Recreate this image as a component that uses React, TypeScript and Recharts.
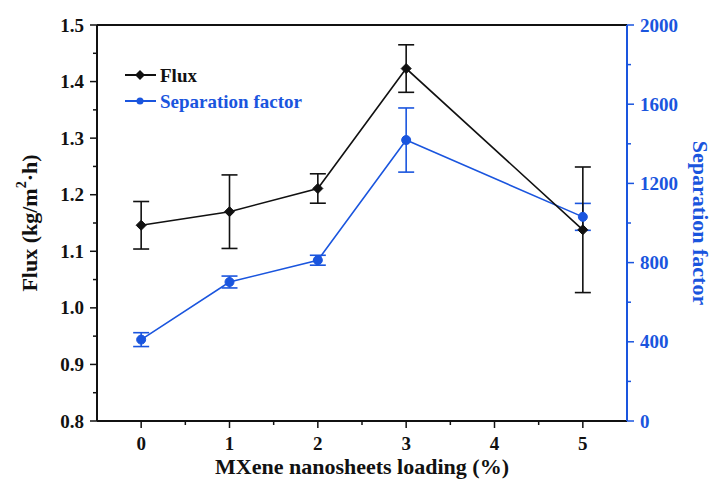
import React from 'react';
import { LineChart, Line, XAxis, YAxis, ErrorBar, Legend, ReferenceLine } from 'recharts';

// ---- data ----
const loading = [0, 1, 2, 3, 5];
const flux = [1.146, 1.17, 1.211, 1.423, 1.138];
const fluxErr = [0.042, 0.065, 0.026, 0.042, 0.111];
const sepFactor = [411, 702, 812, 1419, 1031];
const sepErr = [35, 30, 25, 162, 68];

const xTicks = [0, 0.5, 1, 1.5, 2, 2.5, 3, 3.5, 4, 4.5, 5];
const xMajor = [0, 1, 2, 3, 4, 5];
const fluxTicks = [0.8, 0.85, 0.9, 0.95, 1.0, 1.05, 1.1, 1.15, 1.2, 1.25, 1.3, 1.35, 1.4, 1.45, 1.5];
const fluxMajor = [0.8, 0.9, 1.0, 1.1, 1.2, 1.3, 1.4, 1.5];
const sepTicks = [0, 200, 400, 600, 800, 1000, 1200, 1400, 1600, 1800, 2000];
const sepMajor = [0, 400, 800, 1200, 1600, 2000];

const seriesNames = ['Flux', 'Separation factor'];

const data = loading.map((x, i) => ({
  x,
  flux: flux[i],
  fluxErr: fluxErr[i],
  sep: sepFactor[i],
  sepErr: sepErr[i],
}));

// ---- styles ----
const FONT = "'Liberation Serif', 'Times New Roman', serif";
const BLACK = '#111111';
const BLUE = '#1a55de';
const TICK_FS = 19;
const TITLE_FS = 22;

const txt = (size: number, color: string): React.CSSProperties => ({
  fontFamily: FONT,
  fontWeight: 700,
  fontSize: size,
  fill: color,
});

const isMajor = (v: number, list: number[]) => list.some((m) => Math.abs(m - v) < 1e-6);

const LeftTick = (props: any) => {
  const { x, y, payload } = props;
  const major = isMajor(payload.value, fluxMajor);
  return (
    <g>
      <line x1={x} x2={x - (major ? 7 : 4)} y1={y} y2={y} stroke={BLACK} strokeWidth={1.5} />
      {major && (
        <text x={x - 13} y={y + 6.5} textAnchor="end" style={txt(TICK_FS, BLACK)}>
          {Number(payload.value).toFixed(1)}
        </text>
      )}
    </g>
  );
};

const RightTick = (props: any) => {
  const { x, y, payload } = props;
  const major = isMajor(payload.value, sepMajor);
  return (
    <g>
      <line x1={x} x2={x + (major ? 7 : 4)} y1={y} y2={y} stroke={BLUE} strokeWidth={1.5} />
      {major && (
        <text x={x + 13} y={y + 6.5} textAnchor="start" style={txt(TICK_FS, BLUE)}>
          {String(payload.value)}
        </text>
      )}
    </g>
  );
};

const BottomTick = (props: any) => {
  const { x, y, payload } = props;
  const major = isMajor(payload.value, xMajor);
  return (
    <g>
      <line x1={x} x2={x} y1={y} y2={y + (major ? 7 : 4)} stroke={BLACK} strokeWidth={1.5} />
      {major && (
        <text x={x} y={y + 29} textAnchor="middle" style={txt(TICK_FS, BLACK)}>
          {String(payload.value)}
        </text>
      )}
    </g>
  );
};

const LeftTitle = (props: any) => {
  const vb = props.viewBox || { x: 0, y: 0, width: 0, height: 0 };
  const cx = vb.x + 29;
  const cy = vb.y + vb.height / 2;
  return (
    <text
      x={cx}
      y={cy}
      transform={`rotate(-90 ${cx} ${cy})`}
      textAnchor="middle"
      dominantBaseline="central"
      style={txt(TITLE_FS, BLACK)}
    >
      Flux (kg/m<tspan dy={-8} style={{ fontSize: 14 }}>2</tspan>
      <tspan dy={8}>·h)</tspan>
    </text>
  );
};

const RightTitle = (props: any) => {
  const vb = props.viewBox || { x: 0, y: 0, width: 0, height: 0 };
  const cx = vb.x + 73;
  const cy = vb.y + vb.height / 2;
  return (
    <text
      x={cx}
      y={cy}
      transform={`rotate(90 ${cx} ${cy})`}
      textAnchor="middle"
      dominantBaseline="central"
      style={txt(TITLE_FS, BLUE)}
    >
      Separation factor
    </text>
  );
};

const BottomTitle = (props: any) => {
  const vb = props.viewBox || { x: 0, y: 0, width: 0, height: 0 };
  return (
    <text x={vb.x + vb.width / 2} y={vb.y + 53} textAnchor="middle" style={txt(TITLE_FS, BLACK)}>
      MXene nanosheets loading (%)
    </text>
  );
};

const Diamond = (props: any) => {
  const { cx, cy, index } = props;
  if (cx == null || cy == null) return <g key={`d-${index}`} />;
  const r = 5;
  return (
    <polygon
      key={`d-${index}`}
      points={`${cx},${cy - r} ${cx + r},${cy} ${cx},${cy + r} ${cx - r},${cy}`}
      fill={BLACK}
      stroke={BLACK}
      strokeWidth={1}
    />
  );
};

const renderLegend = (props: any) => {
  const payload: any[] = (props.payload || []).slice();
  payload.sort((a, b) => seriesNames.indexOf(a.value) - seriesNames.indexOf(b.value));
  return (
    <svg width={220} height={56}>
      {payload.map((entry, i) => {
        const isFlux = entry.value === seriesNames[0];
        const color = isFlux ? BLACK : BLUE;
        const cy = 12 + i * 26;
        return (
          <g key={entry.value}>
            <line x1={2} x2={33} y1={cy} y2={cy} stroke={color} strokeWidth={2} />
            {isFlux ? (
              <polygon points={`17,${cy - 5} 22,${cy} 17,${cy + 5} 12,${cy}`} fill={color} />
            ) : (
              <circle cx={17} cy={cy} r={3.5} fill={color} />
            )}
            <text x={37} y={cy + 6.5} style={txt(TICK_FS, color)}>
              {entry.value}
            </text>
          </g>
        );
      })}
    </svg>
  );
};

export default function App() {
  return (
    <div style={{ position: 'absolute', left: 0, top: 0, background: '#fff' }}>
      <LineChart width={721} height={490} data={data} margin={{ top: 25, right: 0, bottom: 0, left: 0 }}>
        <XAxis
          dataKey="x"
          type="number"
          domain={[-0.5, 5.5]}
          ticks={xTicks}
          interval={0}
          height={69}
          tickSize={0}
          tickMargin={0}
          tickLine={false}
          tick={<BottomTick />}
          axisLine={{ stroke: BLACK, strokeWidth: 2 }}
          label={<BottomTitle />}
        />
        <YAxis
          yAxisId="flux"
          orientation="left"
          type="number"
          domain={[0.8, 1.5]}
          ticks={fluxTicks}
          interval={0}
          width={97}
          tickSize={0}
          tickMargin={0}
          tickLine={false}
          tick={<LeftTick />}
          axisLine={{ stroke: BLACK, strokeWidth: 2 }}
          label={<LeftTitle />}
        />
        <YAxis
          yAxisId="sep"
          orientation="right"
          type="number"
          domain={[0, 2000]}
          ticks={sepTicks}
          interval={0}
          width={94}
          tickSize={0}
          tickMargin={0}
          tickLine={false}
          tick={<RightTick />}
          axisLine={{ stroke: BLUE, strokeWidth: 2 }}
          label={<RightTitle />}
        />
        <ReferenceLine yAxisId="flux" y={1.5} stroke={BLACK} strokeWidth={2} />
        <Legend
          layout="vertical"
          align="center"
          verticalAlign="middle"
          content={renderLegend}
          wrapperStyle={{ left: 123, top: 63, width: 220, height: 56 }}
        />
        <Line
          yAxisId="sep"
          name={seriesNames[1]}
          dataKey="sep"
          stroke={BLUE}
          strokeWidth={1.6}
          dot={{ r: 4.5, fill: BLUE, stroke: BLUE, strokeWidth: 1 }}
          activeDot={false}
          isAnimationActive={false}
        >
          <ErrorBar dataKey="sepErr" width={8} stroke={BLUE} strokeWidth={1.6} direction="y" />
        </Line>
        <Line
          yAxisId="flux"
          name={seriesNames[0]}
          dataKey="flux"
          stroke={BLACK}
          strokeWidth={1.6}
          dot={<Diamond />}
          activeDot={false}
          isAnimationActive={false}
        >
          <ErrorBar dataKey="fluxErr" width={8} stroke={BLACK} strokeWidth={1.6} direction="y" />
        </Line>
      </LineChart>
    </div>
  );
}
